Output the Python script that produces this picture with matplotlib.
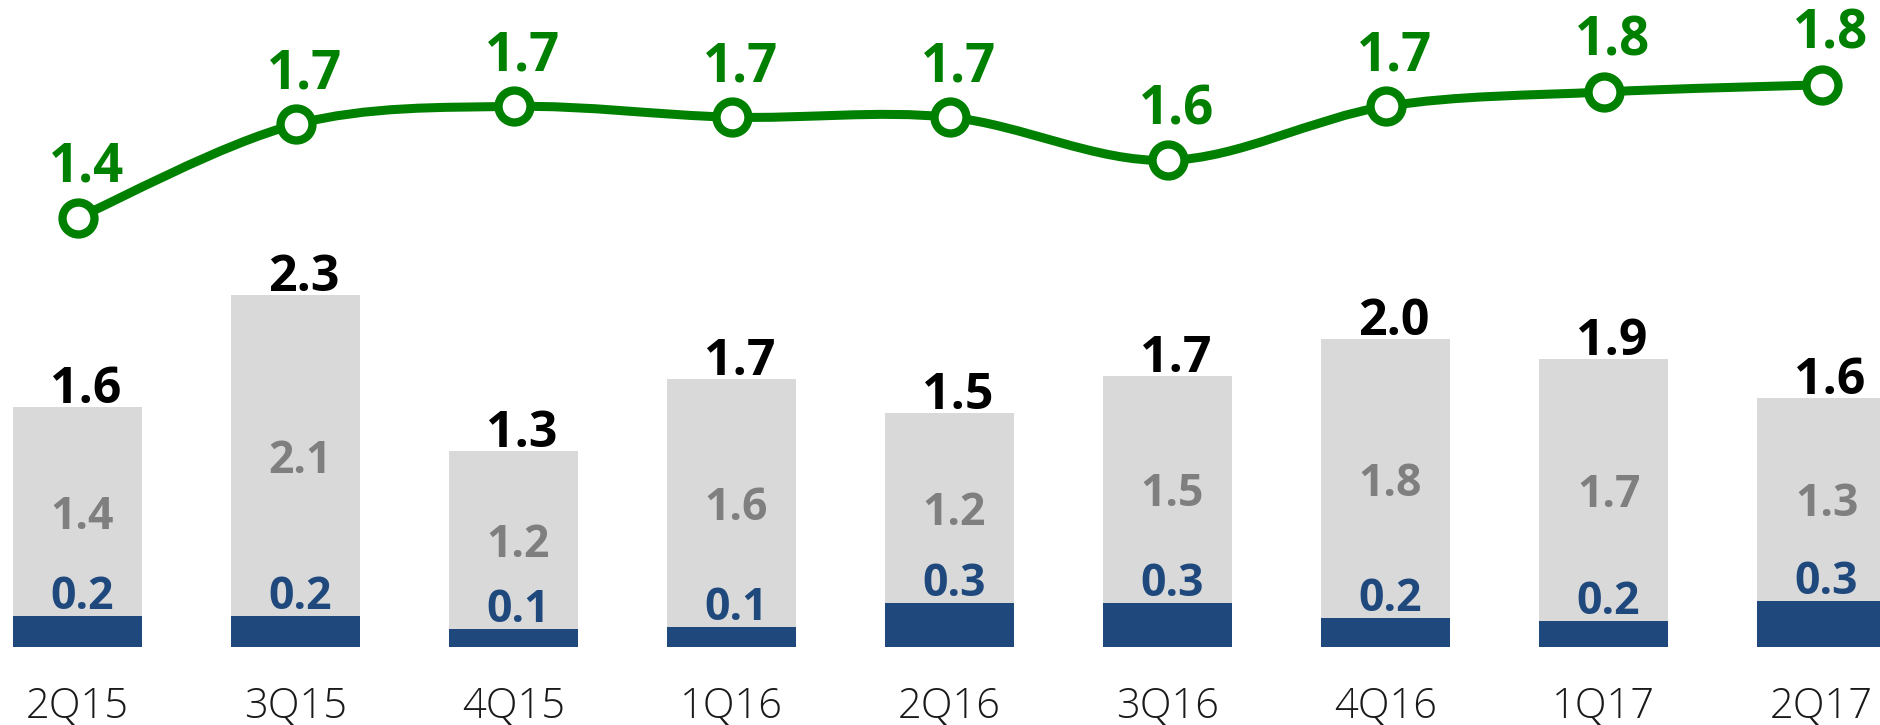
import matplotlib
matplotlib.use("Agg")
import matplotlib.pyplot as plt
from matplotlib.path import Path
from matplotlib.patches import PathPatch

# Data
quarters = ["2Q15", "3Q15", "4Q15", "1Q16", "2Q16", "3Q16", "4Q16", "1Q17", "2Q17"]
blue_vals = [0.20, 0.20, 0.12, 0.13, 0.29, 0.29, 0.19, 0.17, 0.30]
grey_vals = [1.37, 2.10, 1.16, 1.62, 1.24, 1.48, 1.82, 1.71, 1.33]
blue_labels = ["0.2", "0.2", "0.1", "0.1", "0.3", "0.3", "0.2", "0.2", "0.3"]
grey_labels = ["1.4", "2.1", "1.2", "1.6", "1.2", "1.5", "1.8", "1.7", "1.3"]
total_labels = ["1.6", "2.3", "1.3", "1.7", "1.5", "1.7", "2.0", "1.9", "1.6"]
line_vals = [1.40, 1.66, 1.71, 1.68, 1.68, 1.56, 1.71, 1.75, 1.77]
line_labels = ["1.4", "1.7", "1.7", "1.7", "1.7", "1.6", "1.7", "1.8", "1.8"]

# Colours
BLUE = "#1F497D"
GREY = "#D9D9D9"
GREY_TXT = "#7F7F7F"
GREEN = "#008000"
FONT = "Open Sans"

W, H, DPI = 1880, 725, 100


def smooth_path(xs, ys):
    """Catmull-Rom style smoothing expressed as cubic Bezier segments."""
    pts = list(zip(xs, ys))
    verts = [pts[0]]
    codes = [Path.MOVETO]
    n = len(pts)
    for i in range(n - 1):
        p0 = pts[i - 1] if i > 0 else pts[i]
        p1 = pts[i]
        p2 = pts[i + 1]
        p3 = pts[i + 2] if i + 2 < n else pts[i + 1]
        c1 = (p1[0] + (p2[0] - p0[0]) / 6, p1[1] + (p2[1] - p0[1]) / 6)
        c2 = (p2[0] - (p3[0] - p1[0]) / 6, p2[1] - (p3[1] - p1[1]) / 6)
        verts += [c1, c2, p2]
        codes += [Path.CURVE4] * 3
    return Path(verts, codes)


def main():
    fig = plt.figure(figsize=(W / DPI, H / DPI), dpi=DPI)
    fig.patch.set_facecolor("white")

    # bar baseline sits at 647 px from the top, axes reach the top edge
    bottom = (H - 647) / H
    ax = fig.add_axes([0, bottom, 1, 1 - bottom])
    x = list(range(len(quarters)))
    width = 0.592

    totals = [b + g for b, g in zip(blue_vals, grey_vals)]

    ax.bar(x, blue_vals, width=width, color=BLUE, zorder=2)
    ax.bar(x, grey_vals, width=width, bottom=blue_vals, color=GREY, zorder=2)

    ax.set_xlim(-0.3555, 8.268)
    ax.set_ylim(0, 647 / 153.0)

    for i in x:
        ax.annotate(total_labels[i], xy=(i, totals[i]), xytext=(8, 4),
                    textcoords="offset pixels", ha="center", va="baseline",
                    fontsize=36, fontweight="bold", family=FONT, color="black")
        ax.annotate(grey_labels[i], xy=(i, blue_vals[i] + grey_vals[i] / 2),
                    xytext=(5, 0), textcoords="offset pixels",
                    ha="center", va="center_baseline",
                    fontsize=32, fontweight="bold", family=FONT, color=GREY_TXT)
        ax.annotate(blue_labels[i], xy=(i, blue_vals[i]), xytext=(5, 7),
                    textcoords="offset pixels", ha="center", va="baseline",
                    fontsize=32, fontweight="bold", family=FONT, color=BLUE)

    ax.set_xticks(x)
    ax.set_xticklabels(quarters, fontsize=30, family=FONT, fontweight="light",
                       color="#1a1a1a")
    ax.tick_params(axis="x", length=0, pad=28)
    ax.set_yticks([])
    for s in ax.spines.values():
        s.set_visible(False)

    # Line on its own scale
    ax2 = ax.twinx()
    ax2.set_xlim(ax.get_xlim())
    ax2.set_ylim(1.4 - 429 / 360.0, 1.4 + 218 / 360.0)
    ax2.set_yticks([])
    for s in ax2.spines.values():
        s.set_visible(False)

    ax2.add_patch(PathPatch(smooth_path(x, line_vals), facecolor="none",
                            edgecolor=GREEN, linewidth=6.5, zorder=3,
                            capstyle="round", joinstyle="round"))
    ax2.plot(x, line_vals, linestyle="none", marker="o", markersize=23,
             markerfacecolor="white", markeredgecolor=GREEN,
             markeredgewidth=6, zorder=4, clip_on=False)

    for i in x:
        ax2.annotate(line_labels[i], xy=(i, line_vals[i]), xytext=(9, 36),
                     textcoords="offset pixels", ha="center", va="baseline",
                     fontsize=38, fontweight="bold", family=FONT, color=GREEN)

    fig.savefig("out.png", dpi=DPI, facecolor=fig.get_facecolor())
    plt.close(fig)


if __name__ == "__main__":
    main()
